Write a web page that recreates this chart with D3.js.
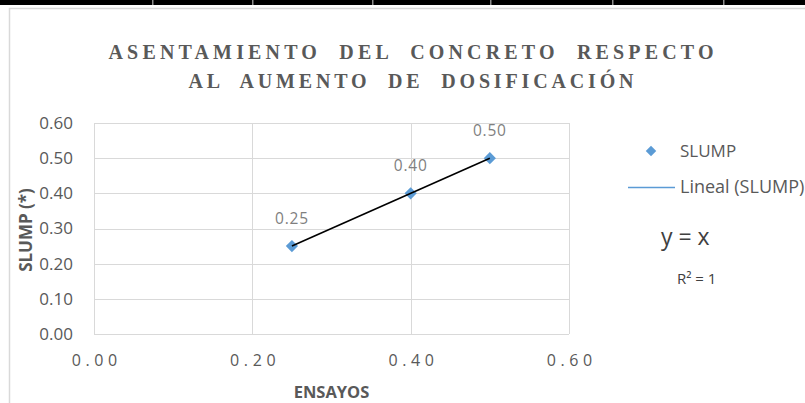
<!DOCTYPE html>
<html>
<head>
<meta charset="utf-8">
<script src="https://cdn.jsdelivr.net/npm/d3@7"></script>
<style>
  html, body { margin: 0; padding: 0; background: #fff; overflow: hidden; }
  svg { display: block; }
</style>
</head>
<body>
<svg id="chart" width="805" height="403"></svg>
<script>
// Trial dosages (x) and measured slump (y)
const ensayos = [0.25, 0.40, 0.50];
const slump = [0.25, 0.40, 0.50];
const xTicks = [0.00, 0.20, 0.40, 0.60];
const yTicks = [0.00, 0.10, 0.20, 0.30, 0.40, 0.50, 0.60];
const titleLines = ["ASENTAMIENTO  DEL  CONCRETO  RESPECTO", "AL  AUMENTO  DE  DOSIFICACIÓN"];
const trendSlope = 1, trendIntercept = 0;

const svg = d3.select("#chart");
const W = 805, H = 403;
const plot = { left: 94, right: 569, top: 123, bottom: 334 };
const sans = "'Open Sans', 'Noto Sans', sans-serif";

// Chart frame
svg.append("rect").attr("x", 9.5).attr("y", 8.5).attr("width", W).attr("height", H)
  .attr("fill", "#fff").attr("stroke", "#d9d9d9").attr("stroke-width", 1.5);

// Header rule with cell separators above the chart frame
svg.append("rect").attr("x", 0).attr("y", 0).attr("width", W).attr("height", 5)
  .style("fill", "rgb(0,0,0)");
const seps = svg.append("g");
[152, 252, 372, 490, 612, 723].forEach(px => {
  seps.append("rect").attr("x", px).attr("y", 0).attr("width", 1.5).attr("height", 5)
    .style("fill", "#fff").style("opacity", 0.55);
});

const x = d3.scaleLinear().domain([0, 0.6]).range([plot.left, plot.right]);
const y = d3.scaleLinear().domain([0, 0.6]).range([plot.bottom, plot.top]);

// Gridlines
const grid = svg.append("g").attr("stroke", "#d9d9d9").attr("stroke-width", 1);
yTicks.forEach(t => {
  const yy = Math.round(y(t)) + 0.5;
  grid.append("line").attr("x1", plot.left).attr("x2", plot.right).attr("y1", yy).attr("y2", yy);
});
xTicks.forEach(t => {
  const xx = Math.round(x(t)) + 0.5;
  grid.append("line").attr("x1", xx).attr("x2", xx).attr("y1", plot.top).attr("y2", plot.bottom);
});

// Y axis labels
const yAxis = d3.axisLeft(y).tickValues(yTicks).tickFormat(d3.format(".2f")).tickSize(0).tickPadding(0);
svg.append("g").attr("transform", `translate(${plot.left - 21},0)`).call(yAxis)
  .call(g => g.select(".domain").remove())
  .call(g => g.selectAll("text").attr("fill", "#595959")
    .style("font-family", sans).style("font-size", "17px"));

// X axis labels (letter spaced)
const xAxis = d3.axisBottom(x).tickValues(xTicks).tickFormat(d3.format(".2f")).tickSize(0).tickPadding(0);
svg.append("g").attr("transform", `translate(0,${plot.bottom + 21})`).call(xAxis)
  .call(g => g.select(".domain").remove())
  .call(g => g.selectAll("text").attr("fill", "#595959")
    .style("font-family", sans).style("font-size", "16px")
    .style("letter-spacing", "4.6px").attr("dx", "2.3px"));

// Title, each line stretched to its set width
const titleWidths = [605, 445];
const titleY = [59, 88];
titleLines.forEach((line, i) => {
  svg.append("text").attr("x", 411).attr("y", titleY[i]).attr("text-anchor", "middle")
    .attr("fill", "#595959").style("font-family", "'Liberation Serif', 'DejaVu Serif', serif")
    .style("font-weight", "bold").style("font-size", "20px").style("white-space", "pre")
    .attr("textLength", titleWidths[i]).attr("lengthAdjust", "spacing")
    .text(line);
});

// Axis titles
svg.append("text").attr("x", (plot.left + plot.right) / 2).attr("y", 398).attr("text-anchor", "middle")
  .attr("fill", "#595959").style("font-family", sans)
  .style("font-weight", "bold").style("font-size", "16.5px").text("ENSAYOS");
svg.append("text").attr("transform", `translate(32,230) rotate(-90)`)
  .attr("text-anchor", "middle").attr("fill", "#595959")
  .style("font-family", sans)
  .style("font-weight", "bold").style("font-size", "17px").text("SLUMP (*)");

const data = ensayos.map((e, i) => ({ x: e, y: slump[i] }));
const diamond = d3.symbol().type(d3.symbolDiamond2);

// Points
svg.append("g").selectAll("path").data(data).join("path")
  .attr("d", diamond.size(95)())
  .attr("transform", d => `translate(${x(d.x)},${y(d.y)})`)
  .attr("fill", "#5b9bd5");

// Linear trendline across the data range
const xMin = d3.min(ensayos), xMax = d3.max(ensayos);
svg.append("line")
  .attr("x1", x(xMin)).attr("y1", y(trendSlope * xMin + trendIntercept))
  .attr("x2", x(xMax)).attr("y2", y(trendSlope * xMax + trendIntercept))
  .attr("stroke", "#000").attr("stroke-width", 1.6);

// Data labels
svg.append("g").selectAll("text").data(data).join("text")
  .attr("x", d => x(d.x)).attr("y", d => y(d.y) - 22)
  .attr("text-anchor", "middle").attr("fill", "#7f7f7f")
  .style("font-family", sans).style("font-size", "15.5px")
  .style("letter-spacing", "0.8px")
  .text(d => d3.format(".2f")(d.y));

// Legend
svg.append("path").attr("d", diamond.size(70)()).attr("transform", "translate(651,151)").attr("fill", "#5b9bd5");
svg.append("text").attr("x", 680).attr("y", 157).attr("fill", "#595959")
  .style("font-family", sans).style("font-size", "17px").text("SLUMP");
svg.append("line").attr("x1", 628).attr("x2", 675).attr("y1", 187.5).attr("y2", 187.5)
  .attr("stroke", "#5b9bd5").attr("stroke-width", 1.5);
svg.append("text").attr("x", 680).attr("y", 193).attr("fill", "#595959")
  .style("font-family", sans).style("font-size", "18px").text("Lineal (SLUMP)");

// Trendline equation and R²
svg.append("text").attr("x", 661).attr("y", 245).attr("fill", "#404040")
  .style("font-family", sans).style("font-size", "23px").text("y = x");
svg.append("text").attr("x", 677).attr("y", 284).attr("fill", "#404040")
  .style("font-family", sans).style("font-size", "15px").text("R² = 1");
</script>
</body>
</html>
